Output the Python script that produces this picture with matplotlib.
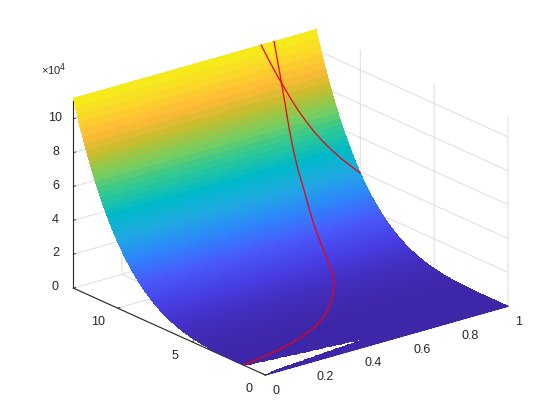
import numpy as np
import matplotlib
matplotlib.use('Agg')
import matplotlib.pyplot as plt
from matplotlib.colors import LinearSegmentedColormap, Normalize
from matplotlib.path import Path

plt.rcParams['font.family'] = ['Liberation Sans', 'DejaVu Sans']

# surface rows, z in units of 1e4
y_rows = [0, 0.0625, 0.125, 0.1875, 0.25, 0.3125, 0.375, 0.4375, 0.5, 0.5625, 0.625, 0.6875, 0.75, 0.8125, 0.875, 0.9375,
          1, 1.0625, 1.125, 1.1875, 1.25, 1.3125, 1.375, 1.4375, 1.5,
          1.75, 2, 2.25, 2.5, 2.75, 3, 3.25, 3.5, 3.75, 4, 4.25, 4.5, 4.75, 5, 5.25, 5.5, 5.75,
          6, 6.125, 6.25, 6.375, 6.5, 6.625, 6.75, 6.875, 7, 7.125, 7.25, 7.375, 7.5, 7.625,
          7.75, 7.875, 8, 8.125, 8.25, 8.375, 8.5, 8.625, 8.75, 8.875, 9, 9.125, 9.25, 9.375,
          9.5, 9.625, 9.75, 9.875, 10, 10.125, 10.25, 10.375, 10.5, 10.625, 10.75, 10.875,
          11, 11.125, 11.25, 11.375, 11.5, 11.625, 11.75, 11.875, 12, 12.125, 12.25, 12.375,
          12.5, 12.625, 12.75, 12.875, 13]
z_rows = [0, 0, 0, 0, 0, 0, 0, 0, 0, 0, 0, 0, 0, 0, 0, 0,
          0.0004, 0.0005, 0.0006, 0.0008, 0.001, 0.0012, 0.0014, 0.0017, 0.002,
          0.0037, 0.0063, 0.010, 0.0153, 0.0224, 0.0318, 0.044, 0.059, 0.078, 0.100, 0.128, 0.161, 0.199, 0.245, 0.298, 0.359, 0.428,
          0.508, 0.552, 0.598, 0.647, 0.700, 0.755, 0.814, 0.876, 0.941, 1.010, 1.083, 1.160, 1.240, 1.325,
          1.414, 1.508, 1.606, 1.708, 1.816, 1.929, 2.046, 2.169, 2.298, 2.432, 2.572, 2.718, 2.870, 3.028,
          3.193, 3.364, 3.543, 3.728, 3.920, 4.120, 4.327, 4.542, 4.765, 4.996, 5.235, 5.483,
          5.739, 6.005, 6.279, 6.563, 6.856, 7.159, 7.472, 7.795, 8.129, 8.472, 8.827, 9.194,
          9.570, 9.959, 10.36, 10.77, 11.20]

# white gap in the surface near the origin
hole_x = [-0.01, 0.0, 0.45, 0.05, 0.0, -0.01]
hole_y = [1.4, 1.4, 0.74, 0.2, 0.0, 0.0]

# red curves lying on the surface
curve1_x = [0.774, 0.790, 0.806, 0.822, 0.837, 0.853, 0.870, 0.888, 0.908, 0.930, 0.952, 0.976, 1.0]
curve1_y = [13, 12.75, 12.5, 12.25, 12, 11.75, 11.5, 11.25, 11, 10.75, 10.5, 10.25, 10]
curve1_z = [11.2, 10.36, 9.57, 8.827, 8.129, 7.472, 6.856, 6.279, 5.739, 5.235, 4.765, 4.327, 3.92]

curve2_x = [0.827, 0.82, 0.81, 0.797, 0.785, 0.775, 0.767, 0.755, 0.742, 0.73, 0.718, 0.705, 0.69,
            0.671, 0.648, 0.617, 0.58, 0.54, 0.495, 0.443, 0.38, 0.30, 0.245, 0.185, 0.105, 0.0]
curve2_y = [13, 12.5, 12, 11.5, 11, 10.5, 10, 9.5, 9, 8.5, 8, 7.5, 7,
            6.5, 6, 5.5, 5, 4.5, 4, 3.5, 3, 2.5, 2.25, 2, 1.75, 1.5]
curve2_z = [11.2, 9.57, 8.129, 6.856, 5.739, 4.765, 3.92, 3.193, 2.572, 2.046, 1.606, 1.24, 0.941,
            0.70, 0.508, 0.359, 0.245, 0.161, 0.10, 0.059, 0.032, 0.015, 0.01, 0.006, 0.004, 0.002]

x_ticks = [0, 0.2, 0.4, 0.6, 0.8, 1]
x_labels = ['0', '0.2', '0.4', '0.6', '0.8', '1']
y_ticks = [0, 5, 10]
z_ticks = [0, 2, 4, 6, 8, 10]

parula = LinearSegmentedColormap.from_list('parula', [
    tuple(c / 255 for c in rgb) for rgb in
    [(62, 38, 168), (71, 60, 225), (72, 90, 250), (45, 135, 250), (30, 170, 225),
     (0, 185, 200), (45, 200, 150), (120, 205, 95), (195, 190, 45), (255, 185, 55),
     (250, 215, 40), (245, 238, 25)]], N=256)

X, Y = np.meshgrid(np.linspace(0, 1, 161), np.array(y_rows))
Z = np.tile(np.array(z_rows) * 1e4, (161, 1)).T
hole = Path(list(zip(hole_x, hole_y)))
inside = hole.contains_points(np.c_[X.ravel(), Y.ravel()]).reshape(X.shape)
Z[inside] = np.nan

fig = plt.figure(figsize=(5.6, 4.2), dpi=100)
ax = fig.add_axes([5 / 560, 2 / 420, 1, 1], projection='3d', proj_type='ortho', computed_zorder=False)
ax.view_init(elev=21, azim=-128.35)
ax.set_box_aspect((306, 306, 201), zoom=1.115)

surf = ax.plot_surface(X, Y, Z, cmap=parula, norm=Normalize(0, 11.2e4), rstride=1, cstride=1,
                       linewidth=0, antialiased=False, shade=False, zorder=1)
surf.set_clip_on(False)
ax.plot(curve1_x, curve1_y, np.array(curve1_z) * 1e4, color='#ee0010', lw=0.9, zorder=5, clip_on=False)
ax.plot(curve2_x, curve2_y, np.array(curve2_z) * 1e4, color='#ee0010', lw=0.9, zorder=5, clip_on=False)

ax.set_xlim(0, 1)
ax.set_ylim(0, 13)
ax.set_zlim(0, 11.2e4)
ax.set_xticks(x_ticks)
ax.set_xticklabels(x_labels)
ax.set_yticks(y_ticks)
ax.set_yticklabels([str(t) for t in y_ticks])
ax.set_zticks([t * 1e4 for t in z_ticks])
ax.set_zticklabels([str(t) for t in z_ticks])
ax.tick_params(labelsize=9, colors='#262626')
ax.tick_params(axis='x', pad=1)
ax.tick_params(axis='y', pad=0.5)
ax.tick_params(axis='z', pad=-1.5)

for lbl in ax.get_xticklabels():
    lbl.set_va('center')
for lbl in ax.get_yticklabels():
    lbl.set_va('center')
    lbl.set_ha('right')
for lbl in ax.get_zticklabels():
    lbl.set_va('center')

for axis in (ax.xaxis, ax.yaxis, ax.zaxis):
    axis.set_pane_color((1, 1, 1, 0))
    axis.pane.set_edgecolor((1, 1, 1, 0))
    axis.line.set_color('#262626')
    axis.line.set_linewidth(0.8)
    axis._axinfo['grid']['color'] = '#dedede'
    axis._axinfo['grid']['linewidth'] = 0.7
    axis._axinfo['tick']['inward_factor'] = 0
    axis._axinfo['tick']['outward_factor'] = 0.12
    axis._axinfo['tick']['linewidth'] = {True: 0.6, False: 0.4}
    axis._axinfo['tick']['color'] = '#262626'

fig.text(41 / 560, 1 - 70 / 420, '×10$^{4}$', fontsize=8, color='#262626', va='center',
         math_fontfamily='dejavusans')

fig.savefig('out.png', dpi=100)
